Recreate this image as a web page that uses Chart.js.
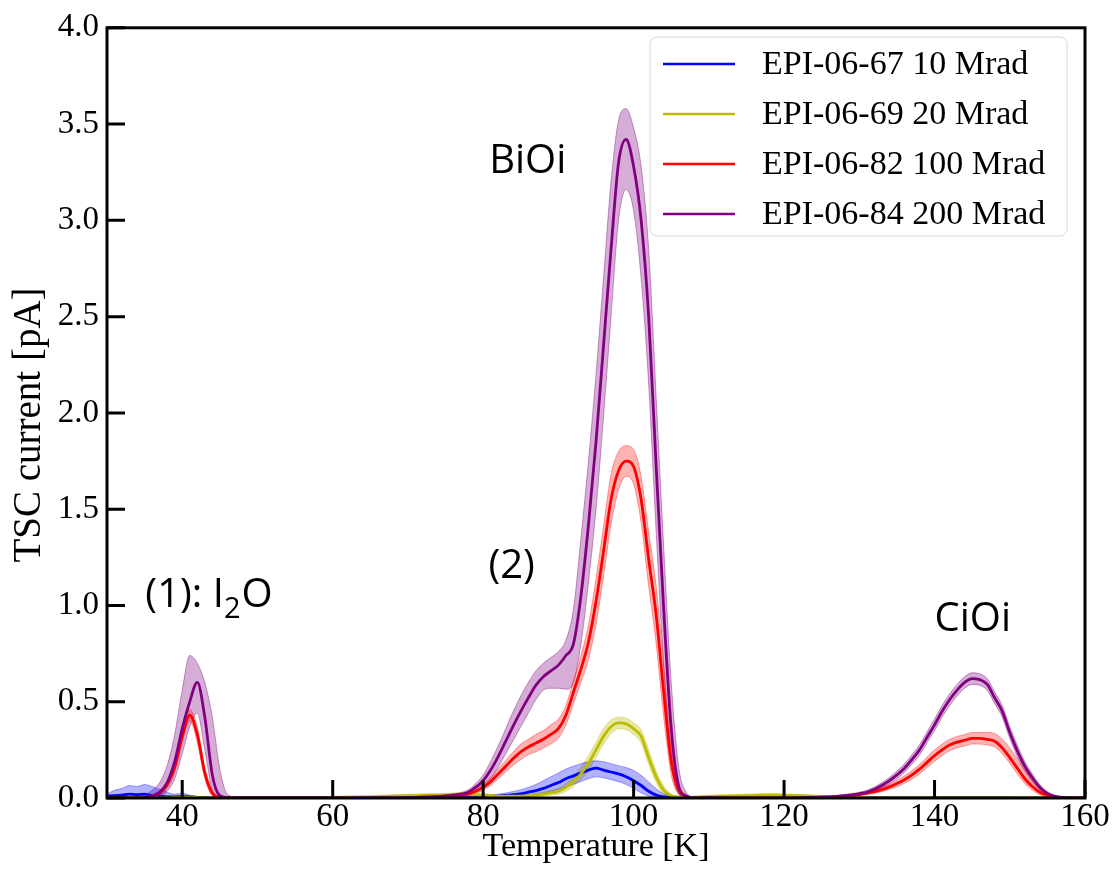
<!DOCTYPE html>
<html>
<head>
<meta charset="utf-8">
<script src="https://cdn.jsdelivr.net/npm/chart.js@4/dist/chart.umd.min.js"></script>
<style>
html,body{margin:0;padding:0;background:#fff;}
canvas{display:block;}
</style>
</head>
<body>
<canvas id="c" width="1112" height="875"></canvas>
<script>
// ---------- DATA ----------
const temps = [30,31,32,33,34,35,36,37,38,39,40,41,42,43,44,45,46,
  48,50,55,60,65,70,72,74,76,78,
  79,80,81,82,83,84,85,86,87,88,89,90,91,92,93,94,95,96,97,98,99,100,101,102,103,104,105,106,107,
  108,110,112,115,118,120,122,125,
  127,128,129,130,131,132,133,134,135,136,137,138,139,140,141,142,143,144,145,146,147,148,149,150,151,152,153,154,155,156,157,
  158,160];

const xTickValues = [40,60,80,100,120,140,160];
const yTickValues = [0,0.5,1,1.5,2,2.5,3,3.5,4];
const seriesLabels = ['EPI-06-67 10 Mrad','EPI-06-69 20 Mrad','EPI-06-82 100 Mrad','EPI-06-84 200 Mrad'];

const blue = [0.010,0.012,0.015,0.020,0.018,0.020,0.012,0.010,0.006,0.006,0.010,0.006,0.003,0.002,0,0,0,
  0,0,0,0,0,0,0,0.002,0.003,0.004,
  0.005,0.006,0.008,0.010,0.013,0.017,0.022,0.030,0.038,0.050,0.065,0.080,0.100,0.115,0.130,0.145,0.155,0.145,0.135,0.125,0.110,0.090,0.065,0.035,0.015,0.006,0.003,0.002,0.001,
  0,0,0,0,0,0,0,0.001,
  0.002,0.002,0.002,0.002,0.002,0.002,0.002,0.002,0.002,0.002,0.002,0.002,0.002,0.003,0.003,0.003,0.003,0.003,0.003,0.003,0.003,0.003,0.003,0.003,0.002,0.002,0.002,0.002,0.002,0.002,0.002,
  0.001,0];
const blueLo = [0,0,0.002,0.003,0.002,0.003,0.002,0.001,0,0,0,0,0,0,0,0,0,
  0,0,0,0,0,0,0,0,0,0,
  0.001,0.002,0.003,0.004,0.005,0.007,0.010,0.013,0.018,0.025,0.033,0.045,0.058,0.072,0.086,0.100,0.110,0.105,0.095,0.085,0.070,0.050,0.027,0.010,0.003,0.001,0,0,0,
  0,0,0,0,0,0,0,0,
  0,0,0,0,0,0,0,0,0,0,0,0,0,0,0,0,0,0,0,0,0,0,0,0,0,0,0,0,0,0,0,
  0,0];
const blueHi = [0.020,0.040,0.050,0.065,0.060,0.070,0.060,0.045,0.030,0.020,0.025,0.015,0.008,0.004,0.002,0,0,
  0,0,0,0,0,0,0.002,0.004,0.006,0.008,
  0.010,0.012,0.015,0.020,0.026,0.034,0.043,0.055,0.070,0.090,0.110,0.130,0.150,0.165,0.178,0.188,0.193,0.188,0.178,0.168,0.158,0.143,0.118,0.083,0.048,0.022,0.009,0.004,0.002,
  0.001,0,0,0,0,0,0,0.002,
  0.005,0.005,0.005,0.005,0.005,0.005,0.005,0.005,0.005,0.005,0.005,0.005,0.005,0.008,0.008,0.008,0.008,0.008,0.008,0.008,0.008,0.008,0.008,0.008,0.005,0.005,0.005,0.005,0.005,0.005,0.005,
  0.002,0];

const yellow = [0,0,0,0,0,0,0,0,0,0.003,0.006,0.005,0.003,0,0,0,0,
  0,0,0,0.003,0.006,0.012,0.014,0.015,0.017,0.018,
  0.016,0.015,0.012,0.010,0.010,0.010,0.010,0.012,0.015,0.020,0.027,0.035,0.055,0.085,0.125,0.180,0.250,0.320,0.370,0.390,0.385,0.360,0.320,0.210,0.110,0.040,0.012,0.005,0.003,
  0.004,0.008,0.010,0.012,0.015,0.014,0.012,0.008,
  0.006,0.005,0.004,0.003,0.002,0.002,0.002,0.002,0.002,0.002,0.002,0.002,0.002,0.002,0.002,0.002,0.002,0.002,0.002,0.002,0.002,0.002,0.002,0.002,0.002,0.002,0.002,0.002,0.002,0.002,0.002,
  0.003,0.003];
const yellowLo = [0,0,0,0,0,0,0,0,0,0,0,0,0,0,0,0,0,
  0,0,0,0,0.001,0.005,0.007,0.008,0.009,0.010,
  0.008,0.007,0.005,0.004,0.004,0.004,0.004,0.005,0.007,0.010,0.015,0.020,0.035,0.060,0.095,0.145,0.210,0.280,0.335,0.360,0.355,0.330,0.285,0.175,0.080,0.020,0.004,0.001,0,
  0,0.002,0.004,0.005,0.007,0.006,0.005,0.002,
  0.001,0.001,0,0,0,0,0,0,0,0,0,0,0,0,0,0,0,0,0,0,0,0,0,0,0,0,0,0,0,0,0,
  0,0];
const yellowHi = [0,0,0,0,0,0,0,0,0.002,0.007,0.012,0.010,0.006,0.002,0,0,0,
  0,0,0.002,0.007,0.012,0.020,0.022,0.023,0.026,0.027,
  0.026,0.025,0.020,0.017,0.016,0.016,0.017,0.020,0.024,0.030,0.040,0.050,0.075,0.110,0.160,0.220,0.290,0.360,0.405,0.420,0.415,0.390,0.355,0.250,0.140,0.062,0.022,0.010,0.006,
  0.008,0.014,0.017,0.020,0.024,0.022,0.019,0.014,
  0.011,0.009,0.008,0.007,0.005,0.005,0.005,0.005,0.005,0.005,0.005,0.005,0.005,0.005,0.005,0.005,0.005,0.005,0.005,0.005,0.005,0.005,0.005,0.005,0.005,0.005,0.005,0.005,0.005,0.005,0.005,
  0.006,0.006];

const red = [0,0,0,0,0,0.003,0.010,0.025,0.070,0.160,0.320,0.430,0.330,0.130,0.025,0.004,0,
  0,0,0,0,0,0.002,0.004,0.007,0.012,0.020,
  0.035,0.055,0.085,0.125,0.165,0.205,0.240,0.265,0.285,0.305,0.330,0.360,0.430,0.550,0.670,0.810,1.020,1.280,1.550,1.700,1.750,1.720,1.550,1.240,0.950,0.550,0.190,0.040,0.008,
  0.002,0,0,0,0,0,0.001,0.004,
  0.007,0.010,0.014,0.018,0.025,0.033,0.044,0.058,0.075,0.095,0.120,0.150,0.185,0.220,0.250,0.275,0.290,0.300,0.310,0.310,0.305,0.295,0.260,0.210,0.155,0.100,0.060,0.030,0.014,0.005,0.002,
  0,0];
const redLo = [0,0,0,0,0,0.001,0.005,0.015,0.050,0.135,0.290,0.400,0.290,0.100,0.012,0.001,0,
  0,0,0,0,0,0.001,0.002,0.004,0.007,0.012,
  0.024,0.040,0.066,0.100,0.135,0.170,0.200,0.225,0.240,0.260,0.280,0.310,0.380,0.490,0.600,0.720,0.900,1.150,1.420,1.600,1.670,1.630,1.430,1.100,0.800,0.420,0.120,0.020,0.003,
  0,0,0,0,0,0,0,0.001,
  0.004,0.006,0.009,0.012,0.018,0.024,0.033,0.045,0.059,0.076,0.098,0.125,0.158,0.190,0.220,0.245,0.260,0.270,0.280,0.280,0.275,0.265,0.230,0.180,0.125,0.075,0.040,0.017,0.006,0.002,0,
  0,0];
const redHi = [0,0,0,0,0,0.006,0.018,0.040,0.090,0.185,0.350,0.460,0.370,0.160,0.040,0.008,0.001,
  0,0,0,0,0,0.004,0.007,0.011,0.018,0.028,
  0.048,0.072,0.105,0.150,0.195,0.240,0.280,0.305,0.330,0.350,0.380,0.410,0.480,0.610,0.740,0.900,1.140,1.410,1.680,1.800,1.830,1.810,1.670,1.380,1.100,0.680,0.270,0.070,0.016,
  0.004,0.001,0,0,0,0,0.003,0.007,
  0.010,0.015,0.020,0.025,0.033,0.043,0.056,0.072,0.092,0.115,0.143,0.175,0.212,0.250,0.280,0.305,0.320,0.330,0.340,0.340,0.340,0.335,0.305,0.260,0.205,0.145,0.095,0.055,0.028,0.012,0.005,
  0.002,0];

const purple = [0,0,0,0,0,0.003,0.010,0.030,0.080,0.190,0.360,0.500,0.600,0.420,0.120,0.012,0.002,
  0,0,0,0,0,0.002,0.004,0.008,0.015,0.030,
  0.055,0.090,0.145,0.215,0.295,0.375,0.450,0.520,0.585,0.630,0.660,0.690,0.740,0.800,1.050,1.420,1.850,2.350,2.850,3.300,3.420,3.280,3.000,2.500,1.720,0.980,0.360,0.060,0.010,
  0.002,0,0,0,0,0,0.001,0.004,
  0.008,0.012,0.016,0.022,0.030,0.045,0.065,0.090,0.120,0.155,0.200,0.250,0.315,0.380,0.450,0.510,0.560,0.600,0.620,0.615,0.590,0.520,0.450,0.340,0.245,0.165,0.105,0.055,0.024,0.009,0.003,
  0.001,0];
const purpleLo = [0,0,0,0,0,0,0.003,0.012,0.035,0.100,0.230,0.370,0.440,0.250,0.040,0.002,0,
  0,0,0,0,0,0.001,0.002,0.004,0.008,0.018,
  0.035,0.060,0.100,0.160,0.230,0.300,0.370,0.440,0.510,0.560,0.570,0.570,0.565,0.600,0.800,1.120,1.500,1.980,2.500,3.000,3.160,3.050,2.700,2.150,1.380,0.680,0.180,0.020,0.001,
  0,0,0,0,0,0,0,0.002,
  0.004,0.007,0.010,0.015,0.021,0.034,0.051,0.074,0.100,0.133,0.175,0.223,0.287,0.350,0.420,0.480,0.530,0.570,0.590,0.585,0.560,0.490,0.420,0.310,0.215,0.140,0.085,0.040,0.015,0.004,0.001,
  0,0];
const purpleHi = [0,0,0,0,0,0.015,0.040,0.080,0.170,0.330,0.560,0.740,0.700,0.600,0.420,0.150,0.020,
  0,0,0,0,0,0.004,0.007,0.012,0.022,0.042,
  0.075,0.120,0.190,0.270,0.360,0.450,0.530,0.600,0.660,0.700,0.730,0.760,0.820,0.980,1.350,1.750,2.200,2.700,3.200,3.520,3.580,3.480,3.280,2.850,2.080,1.300,0.600,0.160,0.030,
  0.005,0.001,0,0,0,0,0.003,0.006,
  0.013,0.018,0.023,0.030,0.040,0.057,0.080,0.107,0.140,0.178,0.225,0.277,0.343,0.410,0.480,0.540,0.590,0.630,0.650,0.645,0.620,0.550,0.480,0.370,0.275,0.190,0.125,0.070,0.033,0.014,0.005,
  0.002,0];

// ---------- STYLE ----------
const series = [
  {label: seriesLabels[0], v: blue,   lo: blueLo,   hi: blueHi,   color: '#0000ff', band: 'rgba(0,0,255,0.30)',   edge: 'rgba(0,0,255,0.35)'},
  {label: seriesLabels[1], v: yellow, lo: yellowLo, hi: yellowHi, color: '#bcbc00', band: 'rgba(190,190,0,0.35)', edge: 'rgba(190,190,0,0.4)'},
  {label: seriesLabels[2], v: red,    lo: redLo,    hi: redHi,    color: '#ff0000', band: 'rgba(255,0,0,0.30)',   edge: 'rgba(255,0,0,0.35)'},
  {label: seriesLabels[3], v: purple, lo: purpleLo, hi: purpleHi, color: '#800080', band: 'rgba(128,0,128,0.32)', edge: 'rgba(128,0,128,0.4)'}
];

const annotations = [
  {parts: [['BiOi', 0]], x: 80.8, y: 3.244},
  {parts: [['(2)', 0]], x: 80.7, y: 1.14},
  {parts: [['(1): I', 0], ['2', 1], ['O', 0]], x: 35.1, y: 0.99},
  {parts: [['CiOi', 0]], x: 140.0, y: 0.869}
];

const pts = arr => temps.map((t, i) => ({x: t, y: arr[i]}));

const datasets = [];
series.forEach(s => {
  datasets.push({data: pts(s.lo), borderColor: s.edge, borderWidth: 1, backgroundColor: s.band, fill: false, order: 3, cubicInterpolationMode: 'monotone'});
  datasets.push({data: pts(s.hi), borderColor: s.edge, borderWidth: 1, backgroundColor: s.band, fill: '-1', order: 3, cubicInterpolationMode: 'monotone'});
});
series.forEach((s, k) => {
  datasets.push({label: s.label, data: pts(s.v), borderColor: s.color, borderWidth: 2.8, fill: false, order: 1 + (3 - k) * 0.1, cubicInterpolationMode: 'monotone'});
});

const SERIF = '"Liberation Serif", "Times New Roman", serif';
const SANS = '"Open Sans", "Noto Sans", sans-serif';

const decor = {
  id: 'decor',
  afterDatasetsDraw(chart) {
    const {ctx, chartArea: a, scales: {x, y}} = chart;
    ctx.save();
    // frame
    ctx.strokeStyle = '#000';
    ctx.lineWidth = 3;
    ctx.strokeRect(a.left, a.top, a.right - a.left, a.bottom - a.top);
    // inward ticks
    ctx.beginPath();
    x.ticks.forEach(t => {
      const px = x.getPixelForValue(t.value);
      ctx.moveTo(px, a.bottom); ctx.lineTo(px, a.bottom - 18);
    });
    y.ticks.forEach(t => {
      const py = y.getPixelForValue(t.value);
      ctx.moveTo(a.left, py); ctx.lineTo(a.left + 18, py);
    });
    ctx.stroke();

    // annotations
    ctx.fillStyle = '#000';
    ctx.textBaseline = 'alphabetic';
    ctx.textAlign = 'left';
    annotations.forEach(an => {
      let px = x.getPixelForValue(an.x);
      const py = y.getPixelForValue(an.y);
      an.parts.forEach(([txt, sub]) => {
        ctx.font = (sub ? '29px ' : '40px ') + SANS;
        ctx.fillText(txt, px, py + (sub ? 11 : 0));
        px += ctx.measureText(txt).width + (sub ? 1 : 0);
      });
    });

    // legend
    const L = {x: 650, y: 37, w: 417, h: 199, r: 7};
    ctx.beginPath();
    ctx.roundRect(L.x, L.y, L.w, L.h, L.r);
    ctx.fillStyle = 'rgba(255,255,255,0.9)';
    ctx.fill();
    ctx.strokeStyle = '#d8d8d8';
    ctx.lineWidth = 1;
    ctx.stroke();
    series.forEach((s, i) => {
      const yy = 64 + i * 50;
      ctx.beginPath();
      ctx.strokeStyle = s.color;
      ctx.lineWidth = 2.6;
      ctx.moveTo(663, yy); ctx.lineTo(735, yy);
      ctx.stroke();
      ctx.fillStyle = '#000';
      ctx.font = '34px ' + SERIF;
      ctx.textBaseline = 'middle';
      ctx.fillText(s.label, 762, yy + 1);
    });

    // y title
    ctx.save();
    ctx.translate(30, 425);
    ctx.rotate(-Math.PI / 2);
    ctx.font = '39px ' + SERIF;
    ctx.textAlign = 'center';
    ctx.textBaseline = 'middle';
    ctx.fillStyle = '#000';
    ctx.fillText('TSC current [pA]', 0, 0);
    ctx.restore();

    ctx.restore();
  }
};

new Chart(document.getElementById('c'), {
  type: 'line',
  data: {datasets},
  options: {
    responsive: false,
    animation: false,
    devicePixelRatio: 1,
    layout: {padding: {top: 20, right: 27, left: 0, bottom: 0}},
    elements: {point: {radius: 0}},
    plugins: {legend: {display: false}, tooltip: {enabled: false}},
    scales: {
      x: {
        type: 'linear', min: 30, max: 160,
        afterBuildTicks: s => { s.ticks = xTickValues.map(v => ({value: v})); },
        afterFit: s => { s.height = 77; },
        grid: {display: false, drawTicks: false},
        border: {display: false},
        ticks: {font: {family: SERIF, size: 33}, color: '#000', padding: 0, maxRotation: 0, autoSkip: false},
        title: {display: true, text: 'Temperature [K]', font: {family: SERIF, size: 34}, color: '#000', padding: {top: 0, bottom: 8}}
      },
      y: {
        type: 'linear', min: 0, max: 4,
        afterBuildTicks: s => { s.ticks = yTickValues.map(v => ({value: v})); },
        afterFit: s => { s.width = 107; },
        grid: {display: false, drawTicks: false},
        border: {display: false},
        ticks: {font: {family: SERIF, size: 33}, color: '#000', padding: 8, callback: v => Number(v).toFixed(1)}
      }
    }
  },
  plugins: [decor]
});
</script>
</body>
</html>
